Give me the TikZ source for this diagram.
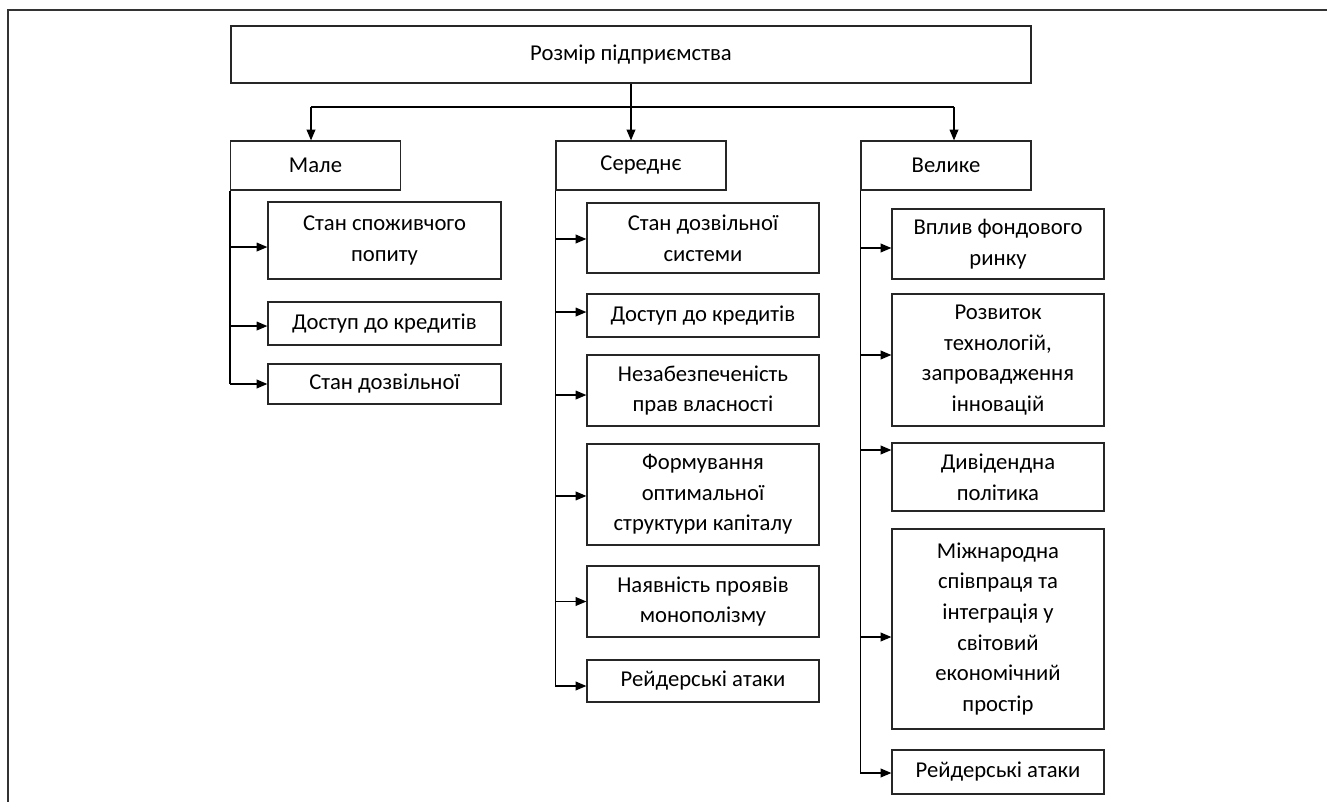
\documentclass[tikz,border=0pt]{standalone}
\usepackage{fontspec}
\setmainfont{Carlito}
\usetikzlibrary{arrows.meta}
\begin{document}
\begin{tikzpicture}[x=0.75pt,y=-0.75pt,
  box/.style={draw=black!85,line width=0.9pt,align=center,inner sep=2pt,
    font=\fontsize{17}{23}\selectfont},
  head/.style={box,minimum width=127.5pt,minimum height=36.75pt},
  smallbox/.style={box,minimum width=174.75pt},
  midbox/.style={box,minimum width=174pt},
  largebox/.style={box,minimum width=159pt},
  wire/.style={draw=black,line width=1pt},
  arrow/.style={wire,-{Triangle[length=8pt,width=6.5pt]}}]
\useasboundingbox (0,0) rectangle (1327,802);
\draw[black!80,line width=1.8pt] (8,802) -- (8,10) -- (1327,10);
% top level
\node[box,minimum width=600pt,minimum height=42.75pt] (size) at (631,54.5) {Розмір підприємства};
\node[head] (small) at (315.5,165.5) {Мале};
\node[head] (medium) at (641,165.5) {Середнє};
\node[head] (large) at (946,165.5) {Велике};
\coordinate (busL) at (311,107);
\coordinate (busR) at (954,107);
\draw[arrow] (size.south) -- (size.south |- medium.north);
\draw[wire] (busL) -- (busR);
\draw[arrow] (busL) -- (busL |- small.north);
\draw[arrow] (busR) -- (busR |- large.north);
% small
\node[smallbox,minimum height=57.75pt] (s1) at (384.5,240.5) {Стан споживчого\\попиту};
\node[smallbox,minimum height=32.25pt] (s2) at (384.5,323.5) {Доступ до кредитів};
\node[smallbox,minimum height=30pt] (s3) at (384.5,384) {Стан дозвільної};
% medium
\node[midbox,minimum height=52.5pt] (m1) at (703,238) {Стан дозвільної\\системи};
\node[midbox,minimum height=32.25pt] (m2) at (703,315.5) {Доступ до кредитів};
\node[midbox,minimum height=53.25pt] (m3) at (703,390.5) {Незабезпеченість\\прав власності};
\node[midbox,minimum height=75.75pt] (m4) at (703,494.5) {Формування\\оптимальної\\структури капіталу};
\node[midbox,minimum height=53.25pt] (m5) at (703,601.5) {Наявність проявів\\монополізму};
\node[midbox,minimum height=31.5pt] (m6) at (703,681) {Рейдерські атаки};
% large
\node[largebox,minimum height=52.5pt] (l1) at (998,244) {Вплив фондового\\ринку};
\node[largebox,minimum height=99pt] (l2) at (998,360) {Розвиток\\технологій,\\запровадження\\інновацій};
\node[largebox,minimum height=51pt] (l3) at (998,477) {Дивідендна\\політика};
\node[largebox,minimum height=150pt] (l4) at (998,629) {Міжнародна\\співпраця та\\інтеграція у\\світовий\\економічний\\простір};
\node[largebox,minimum height=33pt] (l5) at (998,772) {Рейдерські атаки};
% branches
\foreach \n/\s in {s1/-4.9,s2/-1.9,s3/0}{
  \path ([yshift=\s pt]\n.west) coordinate (\n-in);
  \draw[arrow] (small.south west |- \n-in) -- (\n-in);
}
\draw[wire] (small.south west) -- (small.south west |- s3-in);
\foreach \n/\s in {m1/-0.75,m2/2.6,m3/-3.4,m4/-1.1,m5/0,m6/-3.75}{
  \path ([yshift=\s pt]\n.west) coordinate (\n-in);
  \draw[arrow] (medium.south west |- \n-in) -- (\n-in);
}
\draw[wire] (medium.south west) -- (medium.south west |- m6-in);
\foreach \n/\s in {l1/-3,l2/3.75,l3/20.25,l4/-6,l5/-0.75}{
  \path ([yshift=\s pt]\n.west) coordinate (\n-in);
  \draw[arrow] (large.south west |- \n-in) -- (\n-in);
}
\draw[wire] (large.south west) -- (large.south west |- l5-in);
\end{tikzpicture}
\end{document}
